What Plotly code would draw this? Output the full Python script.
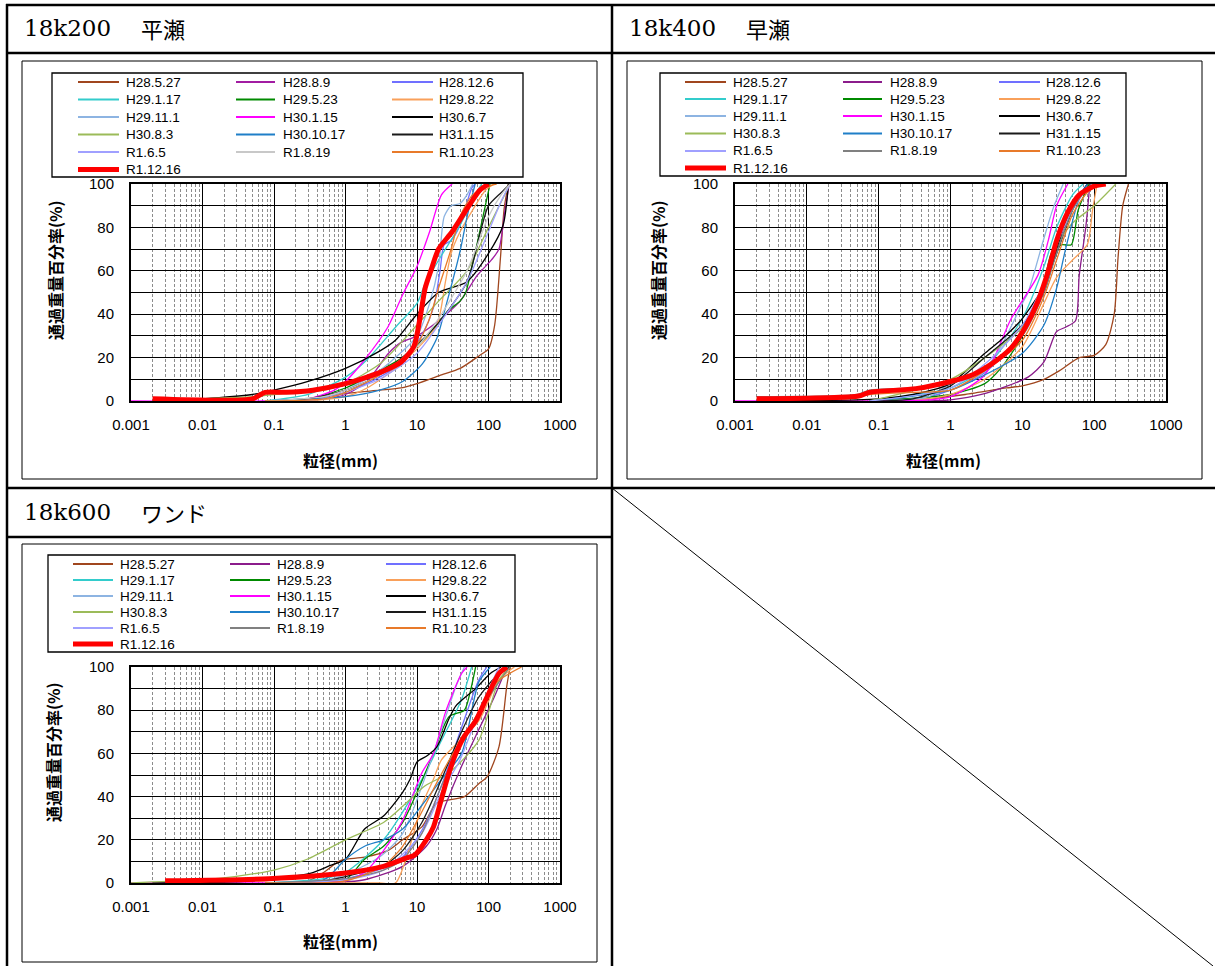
import plotly.graph_objects as go

W, H = 1215, 966

# ---------------- data ----------------
SERIES = ["H28.5.27", "H28.8.9", "H28.12.6", "H29.1.17", "H29.5.23", "H29.8.22",
          "H29.11.1", "H30.1.15", "H30.6.7", "H30.8.3", "H30.10.17", "H31.1.15",
          "R1.6.5", "R1.8.19", "R1.10.23", "R1.12.16"]
COLORS_A = ["#A0461E", "#A21CA2", "#7070FF", "#33CCCC", "#008A00", "#F9A05A",
            "#8DB4E2", "#FF00FF", "#000000", "#9BBB59", "#1F7FC8", "#1A1A1A",
            "#A0A0FF", "#C8C8C8", "#E87A2A", "#FF0000"]
COLORS_B = ["#A0461E", "#8B1C8B", "#7070FF", "#33CCCC", "#008A00", "#F9A05A",
            "#8DB4E2", "#FF00FF", "#000000", "#9BBB59", "#1F7FC8", "#1A1A1A",
            "#A0A0FF", "#808080", "#E87A2A", "#FF0000"]
X_TICKS = [0.001, 0.01, 0.1, 1, 10, 100, 1000]
X_TICK_TEXT = ["0.001", "0.01", "0.1", "1", "10", "100", "1000"]
Y_TICKS = [0, 20, 40, 60, 80, 100]
Y_TICK_TEXT = ["0", "20", "40", "60", "80", "100"]
HEADERS = [("18k200", "平瀬"), ("18k400", "早瀬"), ("18k600", "ワンド")]
Y_TITLE = "通過重量百分率(%)"
X_TITLE = "粒径(mm)"

# 18k200 平瀬  (particle size mm, passing %)
k200_H28_5_27 = ([0.075, 0.3, 1, 3, 6, 10, 22, 40, 75, 100, 122, 147, 166, 190],
                 [0, 1, 3.5, 5, 6, 8, 12, 15, 21, 24, 35, 66, 89, 100])
k200_H28_8_9 = ([0.075, 0.5, 1, 2, 4, 6, 10, 20, 40, 70, 110, 140, 170, 195],
                [0, 1, 3, 9, 22, 27, 30, 37, 46, 58, 65, 70, 88, 100])
k200_H28_12_6 = ([0.075, 0.3, 1, 3, 6.3, 12, 17, 21, 24, 30, 40, 58, 65],
                 [0, 1, 4, 11, 18, 31, 43, 60, 72, 74, 81, 98, 100])
k200_H29_1_17 = ([0.075, 0.3, 1, 2, 5, 10, 13, 21, 40, 65, 80],
                 [0, 3, 11, 19, 34, 45, 54, 66, 81, 95, 100])
k200_H29_5_23 = ([0.075, 0.3, 1, 3, 6.3, 13, 28, 40, 48, 58, 85, 105],
                 [0, 1, 6, 14, 20, 29, 42, 46, 50, 61, 86, 100])
k200_H29_8_22 = ([0.3, 1, 2, 5, 10, 19, 25, 30, 40, 60, 90, 120],
                 [0, 2, 6, 15, 24, 35, 55, 68, 78, 88, 97, 100])
k200_H29_11_1 = ([0.075, 0.5, 1, 3, 10, 15, 20, 24, 30, 40, 50, 60],
                 [0, 2, 5, 14, 30, 45, 62, 85, 90, 91, 95, 100])
k200_H30_1_15 = ([0.001, 0.07, 0.3, 0.7, 1, 1.85, 3.9, 6.3, 10, 15, 22, 31],
                 [0, 0, 1, 5, 9, 19, 34, 49, 62, 78, 95, 100])
k200_H30_6_7 = ([0.002, 0.01, 0.05, 0.1, 0.3, 1, 3, 5, 10, 20, 50, 100, 160, 190],
                [0, 1, 3, 5, 9, 15, 23, 28, 40, 50, 55, 68, 81, 100])
k200_H30_8_3 = ([0.002, 0.01, 0.05, 0.1, 0.5, 1, 3, 10, 20, 50, 100, 200],
                [0, 1, 2, 3, 5, 8, 17, 35, 46, 60, 80, 100])
k200_H30_10_17 = ([0.075, 0.3, 1, 3, 6.3, 11.8, 19, 25, 40, 51, 65],
                  [0, 1, 2, 5, 9, 17, 29, 43, 69, 86, 100])
k200_H31_1_15 = ([0.075, 0.3, 1, 3, 10, 20, 50, 80, 100, 150, 200],
                 [0, 1, 5, 12, 26, 36, 55, 80, 90, 96, 100])
k200_R1_6_5 = ([0.075, 0.5, 1, 3, 10, 20, 50, 100, 150, 200],
               [0, 1, 4, 10, 22, 35, 55, 78, 92, 100])
k200_R1_8_19 = ([0.075, 0.5, 1, 3, 10, 20, 50, 100, 150, 200],
                [0, 2, 5, 12, 25, 38, 60, 85, 95, 100])
k200_R1_10_23 = ([0.075, 0.5, 1, 3, 10, 15, 20, 30, 40, 60, 100, 130],
                 [0, 1, 4, 12, 26, 38, 52, 70, 85, 95, 99, 100])
k200_R1_12_16 = ([0.002, 0.05, 0.075, 0.15, 0.35, 1, 2, 3.5, 6, 9, 11, 13, 16, 20, 31, 51, 75, 100],
                 [1, 1, 4, 4, 5, 8, 11, 14, 18, 25, 38, 52, 61, 70, 78, 89, 97, 100])

# 18k400 早瀬
k400_H28_5_27 = ([0.075, 0.5, 1.6, 6, 10, 20, 33, 62, 100, 145, 190, 215, 250, 300],
                 [0, 1, 3, 6, 7, 10, 14, 20, 21, 26, 40, 66, 90, 100])
k400_H28_8_9 = ([0.075, 0.5, 1, 2.7, 12, 20, 30, 40, 55, 62, 77, 87],
                [0, 0, 0.5, 3, 11, 18, 32, 34, 37, 58, 81, 100])
k400_H28_12_6 = ([0.075, 0.5, 1, 3, 10, 20, 30, 50, 80],
                 [0, 2, 5, 13, 32, 55, 75, 90, 100])
k400_H29_1_17 = ([0.075, 1, 3, 10, 20, 30, 50, 70],
                 [0, 6, 15, 38, 62, 80, 95, 100])
k400_H29_5_23 = ([0.075, 1, 3, 5, 10, 20, 26, 35, 48, 60, 85],
                 [0, 3, 8, 15, 30, 55, 69, 72, 72, 88, 100])
k400_H29_8_22 = ([0.075, 0.5, 1, 3, 10, 20, 30, 50, 80, 95, 110],
                 [0, 1, 3, 10, 25, 45, 57, 65, 72, 88, 100])
k400_H29_11_1 = ([0.075, 0.5, 1, 2.6, 5, 10, 12, 20, 27, 37],
                 [0, 2, 8, 12, 25, 45, 50, 75, 89, 100])
k400_H30_1_15 = ([0.001, 0.07, 0.5, 1, 3, 7, 16.5, 23, 30, 43],
                 [0, 0, 0.5, 2, 12, 38, 58, 74, 90, 100])
k400_H30_6_7 = ([0.002, 0.05, 0.1, 0.3, 1, 3, 5, 10, 20, 30, 50, 80],
                [0, 0.5, 1, 3, 8, 22, 28, 38, 53, 68, 88, 100])
k400_H30_8_3 = ([0.075, 1, 3, 10, 20, 30, 50, 100, 200],
                [0, 10, 20, 34, 55, 72, 82, 90, 100])
k400_H30_10_17 = ([0.075, 1, 3, 10, 20, 30, 40, 60, 80],
                  [0, 5, 12, 22, 35, 52, 70, 92, 100])
k400_H31_1_15 = ([0.075, 0.3, 1, 3, 10, 20, 30, 50, 80, 100],
                 [0, 1, 7, 20, 35, 50, 70, 90, 98, 100])
k400_R1_6_5 = ([0.075, 1, 3, 10, 20, 30, 50, 80, 100],
               [0, 6, 17, 35, 55, 72, 88, 98, 100])
k400_R1_8_19 = ([0.002, 0.05, 0.075, 0.3, 1, 3, 10, 20, 30, 50, 80, 100],
                [2, 3, 5, 6, 8, 15, 30, 50, 68, 88, 98, 100])
k400_R1_10_23 = ([0.002, 0.05, 0.075, 0.3, 1, 3, 10, 20, 30, 50, 80, 120],
                 [1, 2, 3, 4, 5, 14, 28, 48, 65, 86, 96, 100])
k400_R1_12_16 = ([0.002, 0.053, 0.075, 0.33, 1, 2, 3.7, 7, 11, 16.5, 23, 30, 43, 62, 100, 145],
                 [1, 2.3, 4, 5.7, 9, 12, 17, 24.5, 34, 46, 60, 74, 87, 95, 99, 100])

# 18k600 ワンド
k600_H28_5_27 = ([0.075, 0.3, 0.5, 0.8, 1, 1.85, 3.9, 6.3, 11.7, 19, 46, 73, 95, 140, 180, 200],
                 [0, 1, 5, 10, 11, 12, 15, 20, 26, 37, 40, 46, 49, 63, 91, 100])
k600_H28_8_9 = ([0.075, 0.5, 1.85, 6.3, 13.5, 19, 25, 42, 73, 120, 180],
                [0, 0, 1.5, 7.7, 17, 25, 36, 54, 71, 86, 100])
k600_H28_12_6 = ([0.075, 1, 3.4, 6.3, 12, 22, 42, 73, 95],
                 [0, 2, 7, 12, 25, 45, 72, 94, 100])
k600_H29_1_17 = ([0.075, 0.5, 1, 3.4, 11.7, 22, 42, 58],
                 [0, 2, 5, 20, 48, 66, 85, 100])
k600_H29_5_23 = ([0.075, 0.5, 1, 1.85, 3.4, 6.3, 10, 17, 28, 46, 55, 66],
                 [0, 0.5, 1.5, 11, 17, 28, 42, 60, 77, 80, 88, 100])
k600_H29_8_22 = ([0.075, 1, 3, 5, 7, 11.7, 17, 22, 73, 140, 230],
                 [0, 0, 0, 0, 11, 36, 48, 57, 75, 94, 100])
k600_H29_11_1 = ([0.075, 0.5, 1, 3, 6.3, 17, 35, 46],
                 [0, 1, 4, 12, 23, 60, 91, 100])
k600_H30_1_15 = ([0.001, 0.07, 0.5, 1, 1.85, 3.4, 6.3, 11.7, 17, 25, 42, 50],
                 [0, 0, 0.5, 1, 5, 15, 29, 51, 60, 79, 97, 100])
k600_H30_6_7 = ([0.002, 0.05, 0.33, 0.6, 1, 1.85, 3.4, 6.3, 8, 10, 14, 19, 28, 35, 66, 106, 150],
                [0, 1, 4.6, 8, 11, 25, 31, 42, 48, 56, 59, 63, 76, 82, 90, 97, 100])
k600_H30_8_3 = ([0.001, 0.002, 0.01, 0.028, 0.1, 0.29, 1, 3.4, 6.3, 13, 28, 73, 140, 200],
                [0, 0.5, 1.5, 3, 6, 11, 20, 28, 35.5, 45, 51, 66, 94, 100])
k600_H30_10_17 = ([0.075, 0.5, 1, 1.85, 3.4, 6.3, 11.7, 22, 42, 73, 106],
                  [0, 1.5, 11, 17, 20, 25, 36, 48, 60, 93, 100])
k600_H31_1_15 = ([0.075, 0.5, 1, 3.4, 6.3, 11.7, 22, 42, 73, 140, 200],
                 [0, 1, 3, 8, 15, 28, 48, 70, 86, 97, 100])
k600_R1_6_5 = ([0.075, 1, 3.4, 11.7, 22, 40, 73, 140],
               [0, 1.5, 6, 23, 42, 57, 79, 100])
k600_R1_8_19 = ([0.075, 1, 3.4, 6.3, 11.7, 22, 40, 73, 140, 200],
                [0, 2, 6, 11, 23, 45, 64, 79, 93, 100])
k600_R1_10_23 = ([0.075, 1, 3.4, 6.3, 11.7, 20, 32, 73, 130, 290],
                 [0, 1, 8, 17, 33, 48, 60, 79, 93, 100])
k600_R1_12_16 = ([0.003, 0.085, 1, 3.4, 7.2, 9.3, 13.5, 17, 22, 28, 35, 46, 66, 95, 140, 180],
                 [1, 2, 4.6, 7.7, 11.6, 13, 20, 26, 39, 51, 60, 68, 75, 86, 97, 100])

K200 = [k200_H28_5_27, k200_H28_8_9, k200_H28_12_6, k200_H29_1_17, k200_H29_5_23, k200_H29_8_22,
        k200_H29_11_1, k200_H30_1_15, k200_H30_6_7, k200_H30_8_3, k200_H30_10_17, k200_H31_1_15,
        k200_R1_6_5, k200_R1_8_19, k200_R1_10_23, k200_R1_12_16]
K400 = [k400_H28_5_27, k400_H28_8_9, k400_H28_12_6, k400_H29_1_17, k400_H29_5_23, k400_H29_8_22,
        k400_H29_11_1, k400_H30_1_15, k400_H30_6_7, k400_H30_8_3, k400_H30_10_17, k400_H31_1_15,
        k400_R1_6_5, k400_R1_8_19, k400_R1_10_23, k400_R1_12_16]
K600 = [k600_H28_5_27, k600_H28_8_9, k600_H28_12_6, k600_H29_1_17, k600_H29_5_23, k600_H29_8_22,
        k600_H29_11_1, k600_H30_1_15, k600_H30_6_7, k600_H30_8_3, k600_H30_10_17, k600_H31_1_15,
        k600_R1_6_5, k600_R1_8_19, k600_R1_10_23, k600_R1_12_16]

# ---------------- layout helpers (pixel -> paper) ----------------
def fx(x):
    return x / W


def fy(y):
    return 1 - y / H


SANS = "Liberation Sans, Arial, Noto Sans CJK JP, sans-serif"
CJK = "Noto Sans CJK JP, sans-serif"

PANELS = [
    dict(ax="", data=K200, colors=COLORS_A, plot=(131, 184, 560, 401),
         box=(22, 61, 597, 479), leg=(52, 73, 523, 177),
         rows=[82, 99.5, 117, 134.5, 152, 169.5],
         cols=[(78, 119, 124), (236, 275, 281), (392, 433, 437)],
         head=(22, 28, 139), ytitle=(55, 270), xtitle=(340, 460)),
    dict(ax="2", data=K400, colors=COLORS_B, plot=(735, 184, 1166, 401),
         box=(627, 61, 1202, 479), leg=(660, 73, 1126, 176),
         rows=[82, 99, 116, 133.5, 151, 168],
         cols=[(685, 726, 731), (843, 882, 888), (999, 1040, 1044)],
         head=(627, 28, 744), ytitle=(658, 270), xtitle=(944, 460)),
    dict(ax="3", data=K600, colors=COLORS_B, plot=(131, 667, 560, 883),
         box=(22, 544, 597, 962), leg=(48, 555, 515, 652),
         rows=[564, 580, 596, 612, 628, 644],
         cols=[(73, 113, 118), (230, 270, 275), (386, 426, 430)],
         head=(22, 512, 139), ytitle=(53, 752), xtitle=(340, 941)),
]

fig = go.Figure()
shapes = []
annotations = []

for pi, P in enumerate(PANELS):
    ax = P["ax"]
    x0, y0, x1, y1 = P["plot"]
    for si, name in enumerate(SERIES):
        d, p = P["data"][si]
        is_red = name == "R1.12.16"
        fig.add_trace(go.Scatter(
            x=d, y=p, mode="lines", name=name, showlegend=False, hoverinfo="skip",
            line=dict(color=P["colors"][si], width=5 if is_red else 1.3,
                      shape="spline", smoothing=0.7),
            xaxis="x" + ax, yaxis="y" + ax))
    fig.update_layout(**{
        "xaxis" + ax: dict(
            type="log", range=[-3, 3], domain=[fx(x0), fx(x1)], anchor="y" + ax,
            tickmode="array", tickvals=X_TICKS, ticktext=X_TICK_TEXT,
            showgrid=True, gridcolor="#000000", gridwidth=1.3,
            showline=True, linecolor="#000000", linewidth=2, mirror=True,
            ticks="", ticklabelstandoff=9, zeroline=False, fixedrange=True, automargin=False,
            tickfont=dict(family=SANS, size=15, color="#000000"),
            minor=dict(dtick="D1", showgrid=True, gridcolor="#8c8c8c", gridwidth=1,
                       griddash="3px,2px", ticks="")),
        "yaxis" + ax: dict(
            range=[0, 100], domain=[fy(y1), fy(y0)], anchor="x" + ax,
            tickmode="array", tickvals=Y_TICKS, ticktext=Y_TICK_TEXT,
            showgrid=True, gridcolor="#000000", gridwidth=1.3,
            showline=True, linecolor="#000000", linewidth=2, mirror=True,
            ticks="", ticklabelstandoff=12, zeroline=False, fixedrange=True, automargin=False,
            tickfont=dict(family=SANS, size=15, color="#000000"),
            minor=dict(dtick=10, showgrid=True, gridcolor="#000000", gridwidth=1.3, ticks="")),
    })
    bx0, by0, bx1, by1 = P["box"]
    shapes.append(dict(type="rect", xref="paper", yref="paper", x0=fx(bx0), x1=fx(bx1),
                       y0=fy(by1), y1=fy(by0), line=dict(color="#000000", width=1)))
    lx0, ly0, lx1, ly1 = P["leg"]
    shapes.append(dict(type="rect", xref="paper", yref="paper", x0=fx(lx0), x1=fx(lx1),
                       y0=fy(ly1), y1=fy(ly0), line=dict(color="#000000", width=1.3)))
    for si, name in enumerate(SERIES):
        r, c = divmod(si, 3)
        sx0, sx1, tx = P["cols"][c]
        yy = P["rows"][r]
        is_red = name == "R1.12.16"
        shapes.append(dict(type="line", xref="paper", yref="paper", x0=fx(sx0), x1=fx(sx1),
                           y0=fy(yy), y1=fy(yy),
                           line=dict(color=P["colors"][si], width=5 if is_red else 2)))
        annotations.append(dict(xref="paper", yref="paper", x=fx(tx), y=fy(yy), text=name,
                                showarrow=False, xanchor="left", yanchor="middle",
                                font=dict(family=SANS, size=13.5, color="#000000")))
    tx_, ty_ = P["ytitle"]
    annotations.append(dict(xref="paper", yref="paper", x=fx(tx_), y=fy(ty_), text="<b>" + Y_TITLE + "</b>",
                            textangle=-90, showarrow=False, xanchor="center", yanchor="middle",
                            font=dict(family=CJK, size=16, color="#000000")))
    tx_, ty_ = P["xtitle"]
    annotations.append(dict(xref="paper", yref="paper", x=fx(tx_), y=fy(ty_), text="<b>" + X_TITLE + "</b>",
                            showarrow=False, xanchor="center", yanchor="middle",
                            font=dict(family=CJK, size=16, color="#000000")))
    hx, hy, hx2 = P["head"]
    annotations.append(dict(xref="paper", yref="paper", x=fx(hx), y=fy(hy), text=HEADERS[pi][0],
                            showarrow=False, xanchor="left", yanchor="middle",
                            font=dict(family="DejaVu Serif, serif", size=23, color="#000000")))
    annotations.append(dict(xref="paper", yref="paper", x=fx(hx2), y=fy(hy), text=HEADERS[pi][1],
                            showarrow=False, xanchor="left", yanchor="middle",
                            font=dict(family=CJK, size=22, color="#000000")))


def hline(y, xa, xb, w=2.5):
    shapes.append(dict(type="line", xref="paper", yref="paper", x0=fx(xa), x1=fx(xb),
                       y0=fy(y), y1=fy(y), line=dict(color="#000000", width=w)))


def vline(x, ya, yb, w=2.5):
    shapes.append(dict(type="line", xref="paper", yref="paper", x0=fx(x), x1=fx(x),
                       y0=fy(ya), y1=fy(yb), line=dict(color="#000000", width=w)))


hline(5, 6, 1215)
hline(53, 6, 1215)
hline(488, 6, 1215)
hline(537, 6, 612)
vline(7, 4, 966)
vline(612, 4, 966)
shapes.append(dict(type="line", xref="paper", yref="paper", x0=fx(612), y0=fy(488),
                   x1=fx(1213), y1=fy(966), line=dict(color="#000000", width=1)))

fig.update_layout(
    width=W, height=H, margin=dict(l=0, r=0, t=0, b=0, pad=0, autoexpand=False),
    paper_bgcolor="#ffffff", plot_bgcolor="#ffffff",
    showlegend=False, shapes=shapes, annotations=annotations,
)

fig.write_html("out.html", config={"displayModeBar": False},
               post_script="document.body.style.margin='0';document.body.style.overflow='hidden';")
